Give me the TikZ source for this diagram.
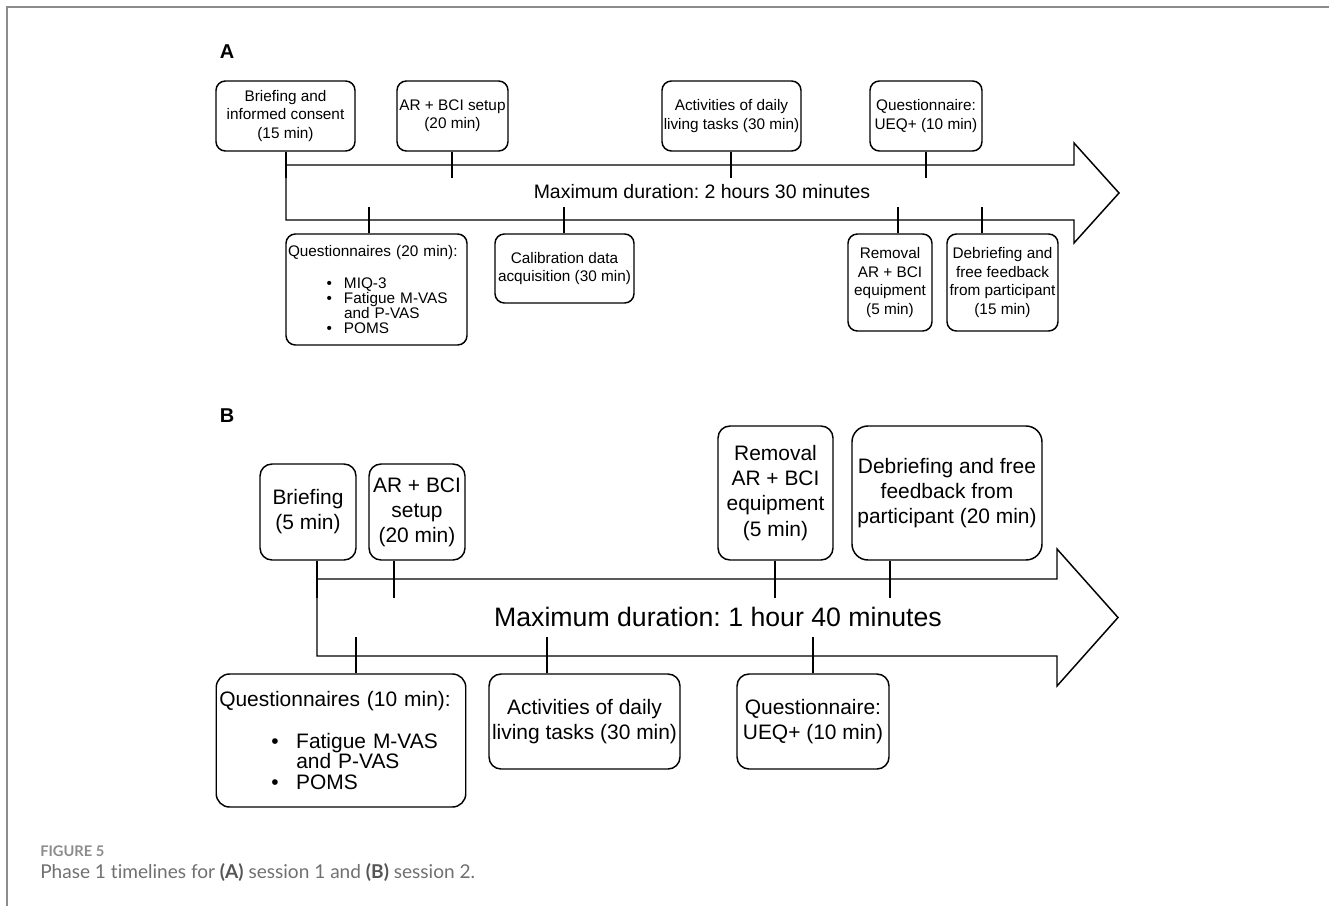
\documentclass[tikz,border=0pt]{standalone}
\usepackage{fontspec}
\setmainfont{Liberation Sans}
\newfontfamily\capfont[Ligatures=NoCommon]{Lato}
\frenchspacing
\definecolor{framegray}{HTML}{8C8C8C}
\definecolor{capgray}{HTML}{707070}
\definecolor{capdark}{HTML}{555555}
\tikzset{
  box/.style={draw, line width=1.1pt, rounded corners=7pt, inner sep=0pt, align=center},
  bsz/.style 2 args={minimum width=#1*0.75pt, minimum height=#2*0.75pt},
  fA/.style={font=\fontsize{11.5}{13.8}\selectfont},
  fB/.style={font=\fontsize{15.7}{18.8}\selectfont},
  tick/.style={line width=1.1pt},
  tline/.style={draw, line width=1.1pt, line join=miter},
  lbl/.style={font=\fontsize{15}{18}\selectfont\bfseries}
}
\begin{document}
\frenchspacing
\begin{tikzpicture}[x=0.75pt,y=-0.75pt]
\useasboundingbox (0,0) rectangle (1329,906);
\draw[framegray, line width=1.5pt] (7,906) -- (7,7) -- (1329,7);

% ---------------- Panel A ----------------
\node[lbl] (labA) at (227,52) {A};
\draw[tline] (286,165) -- (1074,165) -- (1074,143) -- (1119,193) -- (1074,243) -- (1074,220) -- (286,220) -- cycle;
\node[font=\fontsize{14.6}{17}\selectfont] (maxA) at (702,192) {Maximum duration: 2 hours 30 minutes};

\node[box, fA, bsz={139}{70}] (a1) at (285.5,116) {Briefing and\\informed consent\\(15 min)};
\node[box, fA, bsz={111}{70}] (a2) at (452.5,116) {AR + BCI setup\\(20 min)};
\node[box, fA, bsz={139}{70}] (a3) at (731.5,116) {Activities of daily\\living tasks (30 min)};
\node[box, fA, bsz={112}{70}] (a4) at (926,116) {Questionnaire:\\UEQ+ (10 min)};

\node[box, font=\fontsize{11.5}{11.25}\selectfont, align=left, inner xsep=1.5pt,
  text width=177*0.75pt, minimum height=111*0.75pt] (a5) at (376.5,289.5)
  {Questionnaires (20 min):\\[12.75pt]
   \hspace*{29pt}\makebox[13pt][l]{\textbullet}MIQ-3\\
   \hspace*{29pt}\makebox[13pt][l]{\textbullet}Fatigue M-VAS\\
   \hspace*{42pt}and P-VAS\\
   \hspace*{29pt}\makebox[13pt][l]{\textbullet}POMS};
\node[box, fA, bsz={139}{69}] (a6) at (564.5,268.5) {Calibration data\\acquisition (30 min)};
\node[box, fA, bsz={84}{97}] (a7) at (890,282.5) {Removal\\AR + BCI\\equipment\\(5 min)};
\node[box, fA, bsz={111}{97}] (a8) at (1002.5,282.5) {Debriefing and\\free feedback\\from participant\\(15 min)};

\coordinate (ta1) at (286,178);
\coordinate (ta2) at (452,178);
\coordinate (ta3) at (731,178);
\coordinate (ta4) at (926,178);
\coordinate (ta5) at (369,207);
\coordinate (ta6) at (564,207);
\coordinate (ta7) at (898,207);
\coordinate (ta8) at (982,207);
\draw[tick] (ta1 |- a1.south) -- (ta1);
\draw[tick] (ta2 |- a2.south) -- (ta2);
\draw[tick] (ta3 |- a3.south) -- (ta3);
\draw[tick] (ta4 |- a4.south) -- (ta4);
\draw[tick] (ta5 |- a5.north) -- (ta5);
\draw[tick] (ta6 |- a6.north) -- (ta6);
\draw[tick] (ta7 |- a7.north) -- (ta7);
\draw[tick] (ta8 |- a8.north) -- (ta8);

% ---------------- Panel B ----------------
\node[lbl] (labB) at (227,416) {B};
\draw[tline] (317,579) -- (1057,579) -- (1057,549) -- (1118,617.5) -- (1057,686) -- (1057,656) -- (317,656) -- cycle;
\node[font=\fontsize{20}{24}\selectfont] (maxB) at (718,617) {Maximum duration: 1 hour 40 minutes};

\node[box, fB, bsz={96}{96}, rounded corners=9pt] (b1) at (308,512) {Briefing\\(5 min)};
\node[box, fB, bsz={96}{96}, rounded corners=9pt] (b2) at (417,512) {AR + BCI\\setup\\(20 min)};
\node[box, fB, bsz={115}{134}, rounded corners=9pt] (b3) at (775.5,493) {Removal\\AR + BCI\\equipment\\(5 min)};
\node[box, fB, bsz={190}{134}, rounded corners=12pt] (b4) at (947,493) {Debriefing and free\\feedback from\\participant (20 min)};

\node[box, rounded corners=10pt, font=\fontsize{15.7}{15.4}\selectfont, align=left, inner xsep=2.25pt,
  text width=243.5*0.75pt, minimum height=133*0.75pt] (b5) at (341,740.5)
  {Questionnaires (10 min):\\[16.1pt]
   \hspace*{39pt}\makebox[18.75pt][l]{\textbullet}Fatigue M-VAS\\
   \hspace*{57.75pt}and P-VAS\\
   \hspace*{39pt}\makebox[18.75pt][l]{\textbullet}POMS};
\node[box, fB, bsz={191}{95}, rounded corners=9pt] (b6) at (584.5,721.5) {Activities of daily\\living tasks (30 min)};
\node[box, fB, bsz={152}{95}, rounded corners=9pt] (b7) at (813,721.5) {Questionnaire:\\UEQ+ (10 min)};

\coordinate (tb1) at (317,598);
\coordinate (tb2) at (394,598);
\coordinate (tb3) at (775,598);
\coordinate (tb4) at (890,598);
\coordinate (tb5) at (356,637);
\coordinate (tb6) at (547,637);
\coordinate (tb7) at (813,637);
\draw[tick] (tb1 |- b1.south) -- (tb1);
\draw[tick] (tb2 |- b2.south) -- (tb2);
\draw[tick] (tb3 |- b3.south) -- (tb3);
\draw[tick] (tb4 |- b4.south) -- (tb4);
\draw[tick] (tb5 |- b5.north) -- (tb5);
\draw[tick] (tb6 |- b6.north) -- (tb6);
\draw[tick] (tb7 |- b7.north) -- (tb7);

% ---------------- Caption ----------------
\node[anchor=west, inner sep=0pt, text=framegray, font=\capfont\bfseries\fontsize{11}{13}\selectfont] (cap1) at (40,851) {FIGURE 5};
\node[anchor=base west, inner sep=0pt, text=capgray, font=\capfont\fontsize{14.3}{17}\selectfont] (cap2) at (40,878)
  {Phase 1 timelines for \textcolor{capdark}{\bfseries(A)} session 1 and \textcolor{capdark}{\bfseries(B)} session 2.};
\end{tikzpicture}
\end{document}
